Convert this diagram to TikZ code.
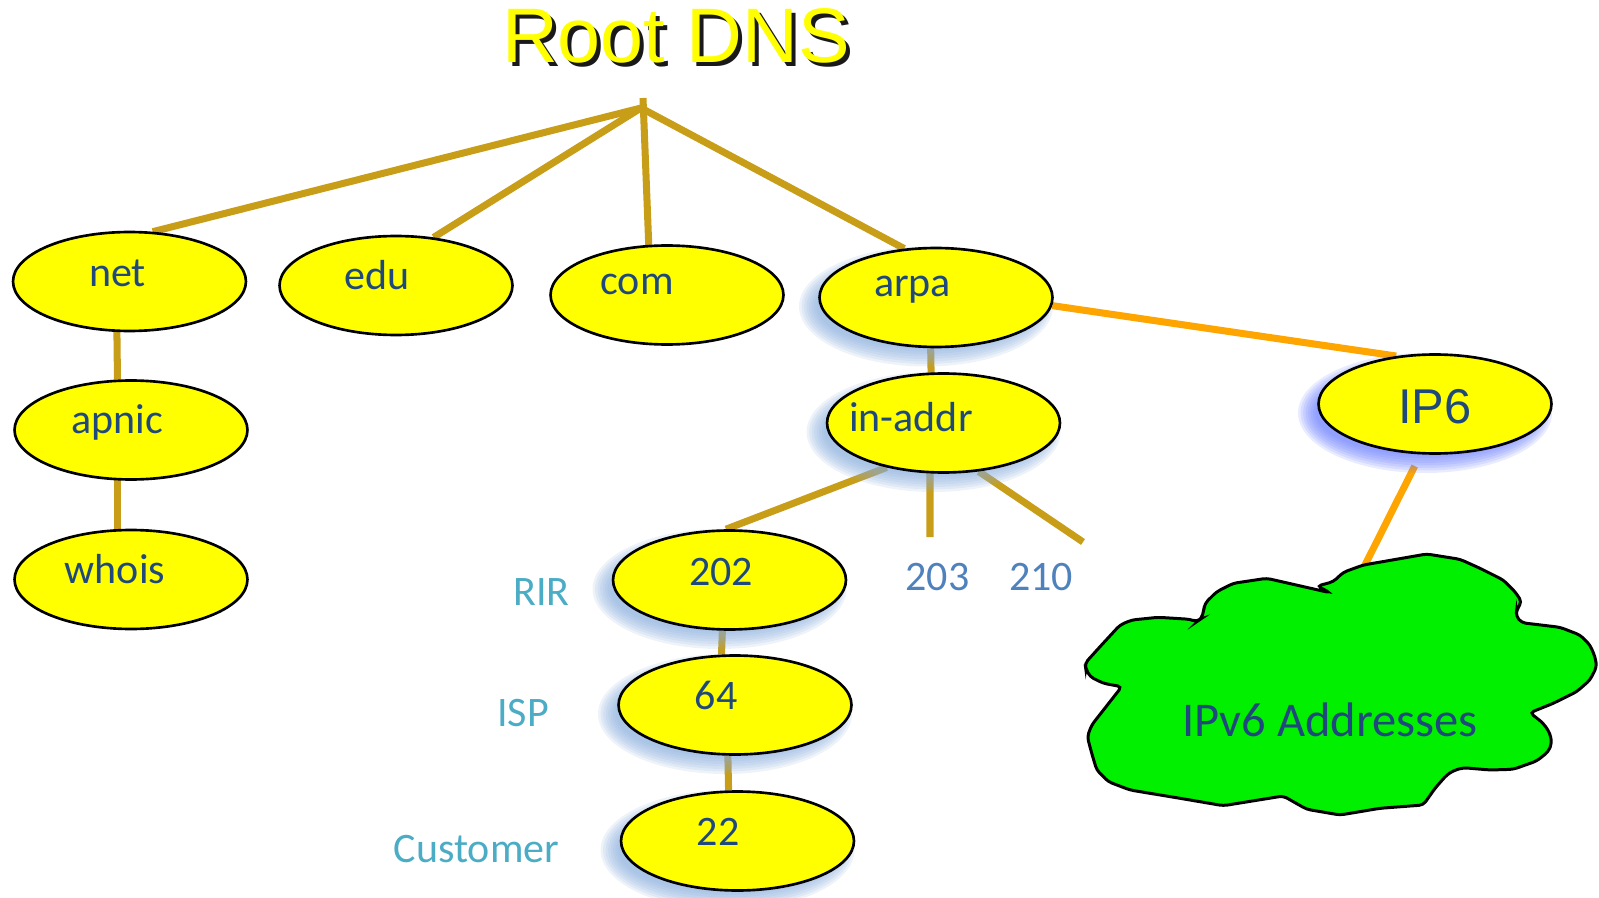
\documentclass[tikz,border=0pt]{standalone}
\usepackage{fontspec}
\setmainfont{Carlito}
\newfontfamily\arialfont{Liberation Sans}
\usetikzlibrary{shapes.geometric}
\usetikzlibrary{backgrounds}

\pgfdeclarelayer{links}
\pgfdeclarelayer{shade}
\pgfsetlayers{links,shade,main}

\definecolor{dnsyellow}{RGB}{255,255,0}
\definecolor{dnsblue}{RGB}{31,73,125}
\definecolor{numblue}{RGB}{79,129,189}
\definecolor{tierteal}{RGB}{75,172,198}
\definecolor{linkgold}{RGB}{200,158,24}
\definecolor{linkorange}{RGB}{255,165,0}
\definecolor{cloudgreen}{RGB}{0,240,0}
\definecolor{shadeblue}{RGB}{135,172,220}
\definecolor{shadeviolet}{RGB}{100,120,255}

\tikzset{
	dnsnode/.style={ellipse, draw=black, line width=1.5pt, fill=dnsyellow, minimum width=4.66cm, minimum height=1.98cm, inner sep=0pt},
	dnstext/.style={anchor=base, inner sep=0pt, text=dnsblue, font=\fontsize{23.9}{28}\selectfont},
	tiertext/.style={dnstext, text=tierteal},
	numtext/.style={dnstext, text=numblue},
	goldlink/.style={draw=linkgold, line width=4pt},
	orangelink/.style={draw=linkorange, line width=4pt}
}

% soft shadow below left of a node
\newcommand{\softshadow}[2]{
	\foreach \k in {0,...,7}
	\fill[#2, opacity=0.14] ([shift={(-10,9)}]#1.center) ellipse ({127-2.5*\k} and {60-2.5*\k});
}

\begin{document}
\begin{tikzpicture}[x=0.02cm, y=-0.02cm]
	\useasboundingbox (0,0) rectangle (1599,898);
	
	\node[anchor=base, inner sep=0pt, text=black, opacity=0.9, font=\arialfont\fontsize{44}{50}\selectfont] (rootshadow) at (680,67) {Root DNS};
	\node[anchor=base, inner sep=0pt, text=dnsyellow, font=\arialfont\fontsize{44}{50}\selectfont] (roottitle) at (676,63) {Root DNS};
	
	\coordinate (root) at (641,108);
	\coordinate (roottop) at (643,98);
	
	\node[dnsnode] (net) at (129.5,281.5) {};
	\node[dnsnode] (edu) at (396,285.5) {};
	\node[dnsnode] (com) at (667,295) {};
	\node[dnsnode] (arpa) at (936,297.5) {};
	\node[dnsnode] (apnic) at (131,430) {};
	\node[dnsnode] (whois) at (131,579.5) {};
	\node[dnsnode] (inaddr) at (943.5,423) {};
	\node[dnsnode] (ip6) at (1435,404) {};
	\node[dnsnode] (n202) at (729.5,580) {};
	\node[dnsnode] (n64) at (735,705) {};
	\node[dnsnode] (n22) at (737.5,841) {};
	
	\node[dnstext] (nettxt) at (117.6,287) {net};
	\node[dnstext] (edutxt) at (377,290) {edu};
	\node[dnstext] (comtxt) at (637,295) {com};
	\node[dnstext] (arpatxt) at (912.5,297) {arpa};
	\node[dnstext] (apnictxt) at (117,434) {apnic};
	\node[dnstext] (whoistxt) at (115,583) {whois};
	\node[dnstext] (inaddrtxt) at (911,432) {in-addr};
	\node[dnstext] (txt202) at (721,585) {202};
	\node[dnstext] (txt64) at (716,709) {64};
	\node[dnstext] (txt22) at (718,845) {22};
	\node[dnstext, font=\arialfont\fontsize{27.8}{32}\selectfont] (ip6txt) at (1435,423) {IP6};
	
	\node[numtext] (txt203) at (937.5,590) {203};
	\node[numtext] (txt210) at (1041,590) {210};
	\coordinate (to203) at (930,537);
	\coordinate (to210) at (1083,542);
	
	\node[tiertext] (rirtxt) at (541.5,605) {RIR};
	\node[tiertext] (isptxt) at (523,726) {ISP};
	\node[tiertext] (custtxt) at (476.5,862) {Customer};
	
	% IPv6 cloud
	\draw[fill=cloudgreen, line width=1.7pt, rounded corners=0.08cm] (1363.3,565) -- (1373.3,563.3) -- (1426.7,554) -- (1460,559.3) -- (1480,568.3) -- (1503.3,580) -- (1515,591.7) -- (1521.7,601.7) -- (1516.7,610) -- (1516,616) -- (1521.7,622.7) -- (1560,627.3) -- (1580,635) -- (1590,645) -- (1595,656.7) -- (1596.7,666.7) -- (1590,680) -- (1576.7,691.7) -- (1553.3,703.3) -- (1530,712.7) -- (1543.3,723.3) -- (1550,733.3) -- (1551.7,743.3) -- (1548.3,751.7) -- (1536.7,761) -- (1513.3,769.3) -- (1490,770) -- (1463.3,767.7) -- (1453.3,770.7) -- (1446.7,775) -- (1435,788.3) -- (1423.3,805) -- (1380,808.3) -- (1340,815) -- (1306.7,809.3) -- (1283.3,796) -- (1223.3,805.7) -- (1180,798.3) -- (1130,790) -- (1108.3,781.7) -- (1096.7,770) -- (1091.7,753.3) -- (1087.3,736.7) -- (1091.7,725) -- (1121.7,686.7) -- (1103.3,683.3) -- (1090,676.7) -- (1085.7,668.3) -- (1085,663.3) -- (1100,646.7) -- (1120,625) -- (1131.7,620) -- (1158.3,617.3) -- (1190,619.3) -- (1196.7,621.7) -- (1201.7,618.3) -- (1203.3,611.7) -- (1205,603.3) -- (1216.7,591.7) -- (1233.3,583.3) -- (1266.7,578.3) -- (1330,592.7) -- (1317.3,586) -- (1333.3,581.7) -- (1343.3,572.3) -- cycle;
	\coordinate (cloudtop) at (1364,567);
	\node[dnstext, font=\fontsize{27.6}{32}\selectfont] (ipv6txt) at (1330,736) {IPv6 Addresses};
	
	\begin{pgfonlayer}{shade}
		\softshadow{arpa}{shadeblue}
		\softshadow{inaddr}{shadeblue}
		\softshadow{n202}{shadeblue}
		\softshadow{n64}{shadeblue}
		\softshadow{n22}{shadeblue}
		\softshadow{ip6}{shadeviolet}
	\end{pgfonlayer}
	
	\begin{pgfonlayer}{links}
		\draw[goldlink] (root) -- (net.65);
		\draw[goldlink] (root) -- (edu.52);
		\draw[goldlink] (roottop) -- (com.110);
		\draw[goldlink] (root) -- (arpa.123);
		\draw[goldlink] (net.256) -- (apnic.105);
		\draw[goldlink] (apnic.255) -- (whois.105);
		\draw[goldlink] (arpa.264) -- (inaddr.258);
		\draw[goldlink] (inaddr.218) -- (n202.94);
		\draw[goldlink] (inaddr.255) -- (to203);
		\draw[goldlink] (inaddr.306) -- (to210);
		\draw[goldlink] (n202.262) -- (n64.105);
		\draw[goldlink] (n64.262) -- (n22.100);
		\draw[orangelink] (arpa.356) -- (ip6.129);
		\draw[orangelink, shorten <=0.26cm] (ip6.254) -- (cloudtop);
	\end{pgfonlayer}
	
\end{tikzpicture}
\end{document}
